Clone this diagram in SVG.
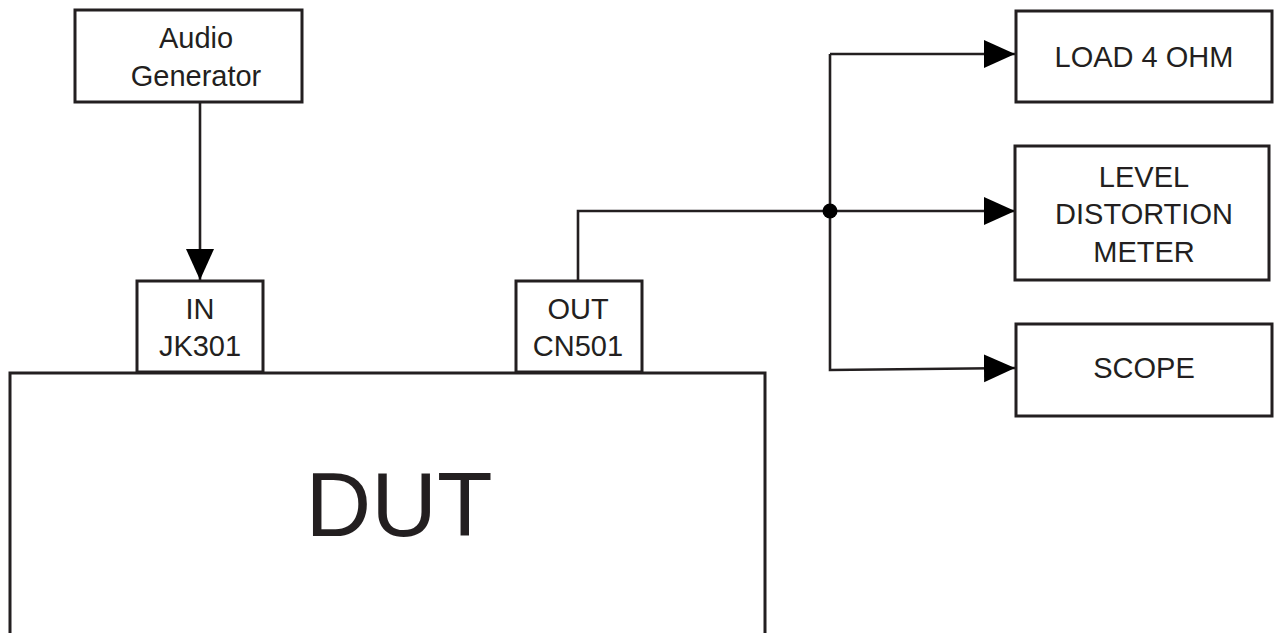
<svg xmlns="http://www.w3.org/2000/svg" width="1279" height="633" viewBox="0 0 1279 633">
<defs>
<style>
.box{fill:#fff;stroke:#231f20;stroke-width:3}
.wire{fill:none;stroke:#231f20;stroke-width:2.6}
.t{font-size:29px;fill:#231f20;text-anchor:middle}
.big{font-size:91px}
</style>
<marker id="arr" markerUnits="userSpaceOnUse" markerWidth="32" markerHeight="30" refX="31" refY="14" orient="auto">
<path d="M0,0 L31,14 L0,28 Z" fill="#000"/>
</marker>
</defs>
<rect width="1279" height="633" fill="#fff"/>
<g id="connectors">
<path class="wire" d="M200,102 V280" marker-end="url(#arr)"/>
<path class="wire" d="M578,281 V211 H1015" marker-end="url(#arr)"/>
<path class="wire" d="M830,54 H1015" marker-end="url(#arr)"/>
<path class="wire" d="M830,54 V370 L1015,368" marker-end="url(#arr)"/>
<circle cx="830" cy="211" r="7.5" fill="#000"/>
</g>
<g font-family="'Liberation Sans', Arial, Helvetica, sans-serif">
<g id="audio-generator">
<rect class="box" x="75" y="10" width="227" height="92"/>
<text class="t" x="196" y="48">Audio</text>
<text class="t" x="196" y="86">Generator</text>
</g>
<g id="dut">
<rect class="box" x="10" y="373" width="755" height="262"/>
<text class="t big" x="399" y="536">DUT</text>
</g>
<g id="in-jk301">
<rect class="box" x="137" y="281" width="126" height="91"/>
<text class="t" x="200" y="319">IN</text>
<text class="t" x="200" y="356">JK301</text>
</g>
<g id="out-cn501">
<rect class="box" x="516" y="281" width="126" height="91"/>
<text class="t" x="578" y="319">OUT</text>
<text class="t" x="578" y="356">CN501</text>
</g>
<g id="load">
<rect class="box" x="1016" y="11" width="256" height="91"/>
<text class="t" x="1144" y="67">LOAD 4 OHM</text>
</g>
<g id="level-meter">
<rect class="box" x="1015" y="146" width="254" height="134"/>
<text class="t" x="1144" y="187">LEVEL</text>
<text class="t" x="1144" y="224">DISTORTION</text>
<text class="t" x="1144" y="262">METER</text>
</g>
<g id="scope">
<rect class="box" x="1016" y="324" width="256" height="92"/>
<text class="t" x="1144" y="378">SCOPE</text>
</g>
</g>
</svg>
